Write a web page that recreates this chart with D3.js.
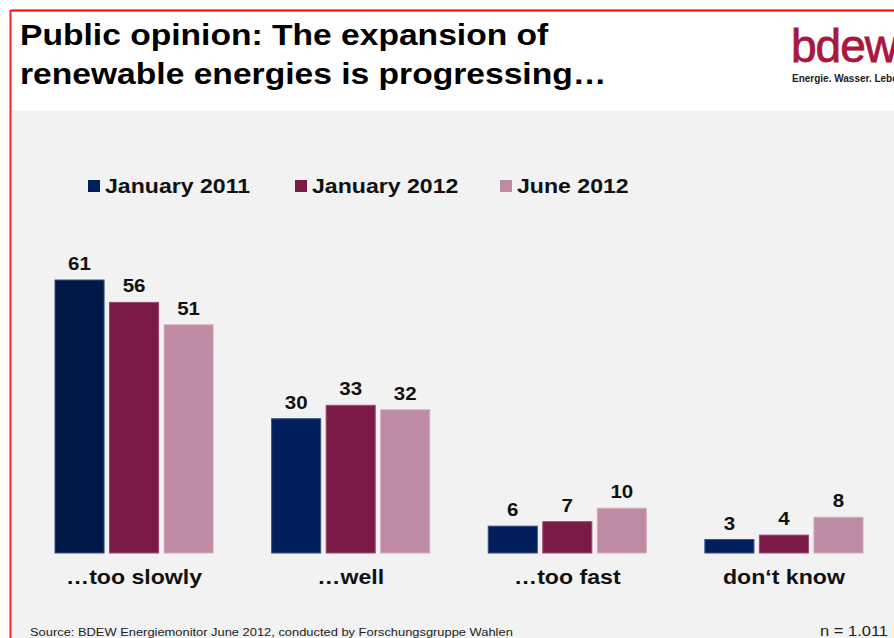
<!DOCTYPE html>
<html lang="en">
<head>
<meta charset="UTF-8">
<title>Public opinion: expansion of renewable energies</title>
<script src="https://d3js.org/d3.v7.min.js"></script>
<style>
    body { margin: 0; background: #fff; }
    text { font-family: Arial, "Liberation Sans", sans-serif; }
</style>
</head>
<body>
<svg width="894" height="638"></svg>
<script>
    const categories = ['\u2026too slowly', '\u2026well', '\u2026too fast', 'don\u2018t know'];
    const series = ['January 2011', 'January 2012', 'June 2012'];
    const jan2011 = [61, 30, 6, 3];
    const jan2012 = [56, 33, 7, 4];
    const jun2012 = [51, 32, 10, 8];
    const colors = ['#001f5c', '#7b1a47', '#bf8aa3'];
    const strokes = ['#3a4f80', '#9a4a70', '#d4b0c1'];

    const values = [jan2011, jan2012, jun2012];
    const data = categories.map((c, i) => ({
        cat: c,
        vals: series.map((s, j) => ({ key: s, idx: j, value: values[j][i] }))
    }));

    const svg = d3.select('svg');

    // the slide text is rendered a bit wider than Arial, stretch it
    function stretch(sel, k) {
        sel.each(function () {
            const w = this.getComputedTextLength();
            d3.select(this).attr('textLength', w * k).attr('lengthAdjust', 'spacingAndGlyphs');
        });
    }

    // slide frame
    svg.append('rect').attr('x', 12).attr('y', 111).attr('width', 882).attr('height', 527).attr('fill', '#f2f2f2');
    svg.append('line').attr('x1', 10.5).attr('x2', 894).attr('y1', 10.5).attr('y2', 10.5).attr('stroke', '#ff0000').attr('stroke-width', 2);
    svg.append('line').attr('x1', 10.5).attr('x2', 10.5).attr('y1', 10).attr('y2', 638).attr('stroke', '#ff2020').attr('stroke-width', 2);

    // title
    const titleLines = ['Public opinion: The expansion of', 'renewable energies is progressing\u2026'];
    svg.append('g').selectAll('text')
        .data(titleLines).enter().append('text')
        .attr('x', 20).attr('y', (d, i) => 45 + i * 39)
        .attr('font-size', 30).attr('font-weight', 'bold').attr('fill', '#000')
        .text(d => d)
        .call(stretch, 1.12);

    // logo
    svg.append('text').attr('x', 791).attr('y', 62).attr('font-size', 46)
        .attr('fill', '#a8173e').attr('stroke', '#a8173e').attr('stroke-width', 0.8)
        .attr('letter-spacing', -1).text('bdew');
    svg.append('text').attr('x', 792).attr('y', 82).attr('font-size', 10).attr('font-weight', 'bold')
        .attr('fill', '#222').text('Energie. Wasser. Leben.');

    // scales
    const x0 = d3.scaleBand().domain(categories).range([55, 863]).paddingInner(0.27).paddingOuter(0);
    const x1 = d3.scaleBand().domain(series).range([0, x0.bandwidth()]).paddingInner(0.1).paddingOuter(0);
    const y = d3.scaleLinear().domain([0, 61]).range([553, 280]);

    const groups = svg.append('g').selectAll('g')
        .data(data).enter().append('g')
        .attr('transform', d => `translate(${x0(d.cat)},0)`);

    groups.selectAll('rect')
        .data(d => d.vals).enter().append('rect')
        .attr('x', d => x1(d.key))
        .attr('y', d => y(d.value))
        .attr('width', x1.bandwidth())
        .attr('height', d => y(0) - y(d.value))
        .attr('fill', (d, i, n) => d.idx === 0 && d.value > 50 ? '#001846' : colors[d.idx])
        .attr('stroke', d => strokes[d.idx])
        .attr('stroke-width', 1);

    groups.selectAll('text.val')
        .data(d => d.vals).enter().append('text')
        .attr('class', 'val')
        .attr('x', d => x1(d.key) + x1.bandwidth() / 2)
        .attr('y', d => y(d.value) - 10)
        .attr('text-anchor', 'middle')
        .attr('font-size', 19).attr('font-weight', 'bold').attr('fill', '#111')
        .text(d => d.value)
        .call(stretch, 1.08);

    // category axis
    const xAxis = svg.append('g').attr('transform', 'translate(0,553)')
        .call(d3.axisBottom(x0).tickSize(0).tickPadding(0));
    xAxis.select('.domain').remove();
    xAxis.selectAll('text')
        .attr('y', 31)
        .attr('dy', 0)
        .attr('font-family', 'Arial, "Liberation Sans", sans-serif')
        .attr('font-size', 21).attr('font-weight', 'bold').attr('fill', '#111')
        .call(stretch, 1.1);

    // legend
    const legendX = [88, 295, 500];
    const legend = svg.append('g').selectAll('g')
        .data(series).enter().append('g')
        .attr('transform', (d, i) => `translate(${legendX[i]},180)`);
    legend.append('rect').attr('width', 12).attr('height', 12).attr('fill', (d, i) => colors[i]);
    legend.append('text').attr('x', 17).attr('y', 13)
        .attr('font-size', 21).attr('font-weight', 'bold').attr('fill', '#111')
        .text(d => d)
        .call(stretch, 1.1);

    // footer
    svg.append('text').attr('x', 30).attr('y', 636).attr('font-size', 11.5).attr('fill', '#222')
        .text('Source: BDEW Energiemonitor June 2012, conducted by Forschungsgruppe Wahlen')
        .call(stretch, 1.12);
    svg.append('text').attr('x', 820).attr('y', 636).attr('font-size', 15).attr('fill', '#222')
        .text('n = 1.011')
        .call(stretch, 1.1);
</script>
</body>
</html>
